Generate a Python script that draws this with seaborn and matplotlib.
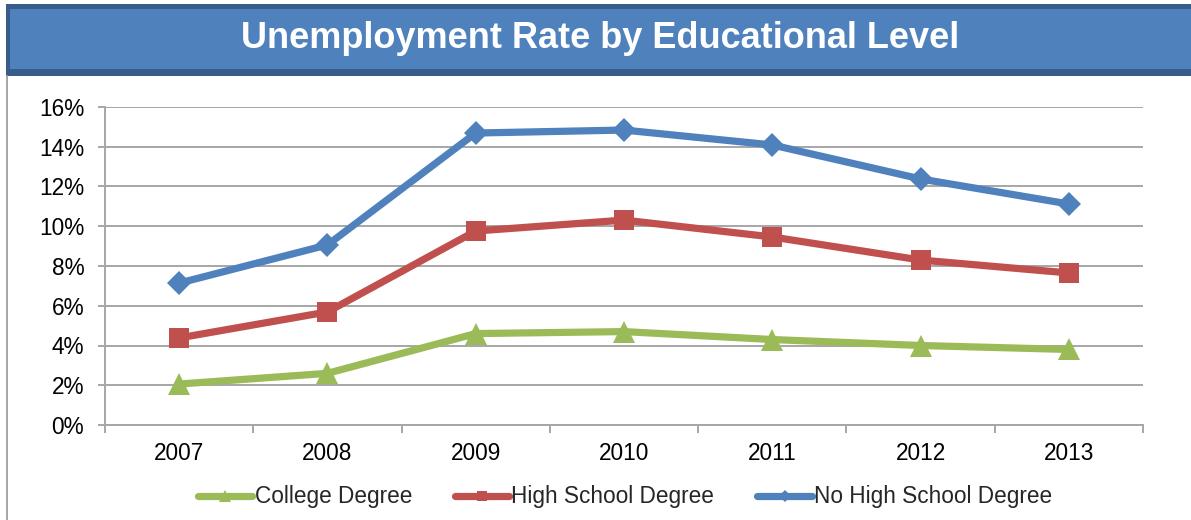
import matplotlib
matplotlib.use("Agg")
import matplotlib.pyplot as plt
import seaborn as sns
import pandas as pd
from matplotlib.patches import Rectangle
from matplotlib.lines import Line2D
from matplotlib.ticker import FuncFormatter

years = ["2007", "2008", "2009", "2010", "2011", "2012", "2013"]
college = [2.06, 2.6, 4.6, 4.7, 4.3, 4.0, 3.8]
high_school = [4.38, 5.69, 9.76, 10.31, 9.46, 8.30, 7.65]
no_high_school = [7.14, 9.06, 14.69, 14.84, 14.09, 12.38, 11.12]
series_names = ["College Degree", "High School Degree", "No High School Degree"]
title = "Unemployment Rate by Educational Level"

colors = {"College Degree": "#9BBB59", "High School Degree": "#C0504D", "No High School Degree": "#4F81BD"}
markers = {"College Degree": "^", "High School Degree": "s", "No High School Degree": "D"}
msizes = {"College Degree": 16, "High School Degree": 15, "No High School Degree": 12.5}

rows = []
for name, vals in zip(series_names, [college, high_school, no_high_school]):
    for i, (y, v) in enumerate(zip(years, vals)):
        rows.append({"pos": i, "year": y, "rate": v, "series": name})
df = pd.DataFrame(rows)

sns.set_theme(style="white")
plt.rcParams['font.family'] = ['Liberation Sans', 'DejaVu Sans']

fig = plt.figure(figsize=(11.91, 5.20), dpi=100)
ax = fig.add_axes([105/1191, 1-425/520, (1143-105)/1191, (425-107)/520])

for name in series_names:
    sub = df[df["series"] == name]
    sns.lineplot(data=sub, x="pos", y="rate", ax=ax, color=colors[name],
                 marker=markers[name], markersize=msizes[name], markeredgewidth=0,
                 linewidth=5.2, label=name, legend=False, zorder=3)

ax.set_xlim(-0.5, len(years) - 0.5)
ax.set_ylim(0, 16)
ax.set_yticks(range(0, 17, 2))
ax.yaxis.set_major_formatter(FuncFormatter(lambda v, p: f"{int(v)}%"))
ax.set_xticks(range(len(years)))
ax.set_xticklabels(years)
ax.set_xticks([i - 0.5 for i in range(len(years) + 1)], minor=True)
ax.set_xlabel("")
ax.set_ylabel("")
ax.grid(axis="y", color="#A6A6A6", linewidth=1.4, zorder=0)
ax.grid(axis="x", visible=False)
for s in ["top", "right"]:
    ax.spines[s].set_visible(False)
ax.spines["left"].set_color("#A6A6A6")
ax.spines["bottom"].set_color("#A6A6A6")
ax.spines["left"].set_linewidth(1.4)
ax.spines["bottom"].set_linewidth(1.4)
ax.tick_params(axis="y", which="major", left=True, length=5, width=1.4, color="#A6A6A6",
               labelsize=16.3, labelcolor="black", pad=10)
ax.tick_params(axis="x", which="major", bottom=False, labelsize=16.3, labelcolor="black", pad=6)
ax.tick_params(axis="x", which="minor", bottom=True, length=6, width=1.4, color="#A6A6A6")

# Title banner
fig.patches.append(Rectangle((6/1191, 1-76/520), 1, 72/520, transform=fig.transFigure,
                             facecolor="#385D8A", edgecolor="none", zorder=0))
fig.patches.append(Rectangle((10/1191, 1-69/520), 1, 60/520, transform=fig.transFigure,
                             facecolor="#4F81BD", edgecolor="none", zorder=1))
fig.text(600/1191, 1-39/520, title, ha="center", va="center", fontsize=26,
         fontweight="bold", color="white")
# left frame line
fig.add_artist(Line2D([7/1191, 7/1191], [0, 1-76/520], transform=fig.transFigure,
                      color="#A6A6A6", linewidth=1.4))

handles = [Line2D([], [], color=colors[n], marker=markers[n], markersize=msizes[n]*0.5,
                  markeredgewidth=0, linewidth=5.2, solid_capstyle="round") for n in series_names]
fig.legend(handles, series_names, loc="center", bbox_to_anchor=(625/1191, 1-497/520),
           ncol=3, frameon=False, fontsize=16.3, handlelength=2.4, handletextpad=0.1,
           columnspacing=1.9)

fig.savefig("out.png", dpi=100)
